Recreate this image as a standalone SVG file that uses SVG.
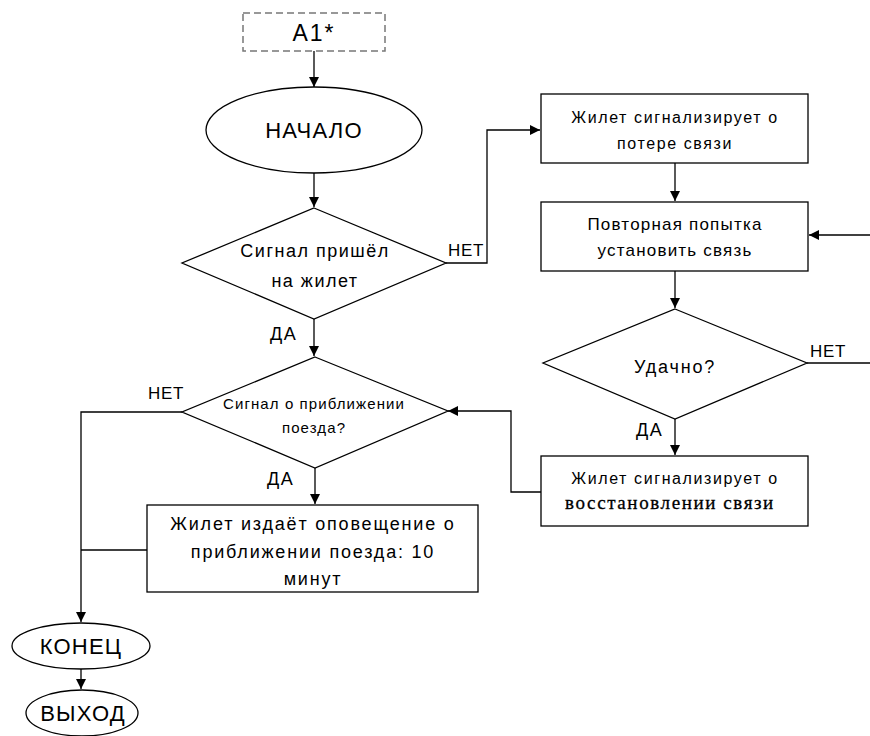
<svg xmlns="http://www.w3.org/2000/svg" width="870" height="736" viewBox="0 0 870 736">
<defs>
<marker id="arr" viewBox="0 0 10 10" refX="10" refY="5" markerWidth="10" markerHeight="10" markerUnits="userSpaceOnUse" orient="auto">
<path d="M0,0 L10,5 L0,10 z" fill="#000"/>
</marker>
<style>
.s{fill:#fff;stroke:#000;stroke-width:1.3}
.c{fill:none;stroke:#000;stroke-width:1.3}
.t{font-family:"Liberation Sans","Open Sans",sans-serif;fill:#000;text-anchor:middle}
.m{font-size:18px;letter-spacing:1.5px}
.sm{font-size:17px;letter-spacing:1.2px}
.lb{font-size:17px;letter-spacing:0.7px;text-anchor:start}
.da{font-size:18px;letter-spacing:1.5px;text-anchor:start}
.big{font-size:22px;letter-spacing:1.2px}
.serif{font-family:"Liberation Serif",serif;font-size:19px;letter-spacing:1.6px;stroke:#000;stroke-width:0.3}
</style>
</defs>
<rect width="870" height="736" fill="#fff"/>
<g id="connectors">
<path class="c" d="M314,51 V87" marker-end="url(#arr)"/>
<path class="c" d="M314,173 V207" marker-end="url(#arr)"/>
<path class="c" d="M314,319 V356" marker-end="url(#arr)"/>
<path class="c" d="M446,263 H487 V130 H540" marker-end="url(#arr)"/>
<path class="c" d="M675,163 V201" marker-end="url(#arr)"/>
<path class="c" d="M870,235 H809" marker-end="url(#arr)"/>
<path class="c" d="M675,271 V308" marker-end="url(#arr)"/>
<path class="c" d="M807,363 H870"/>
<path class="c" d="M675,419 V455" marker-end="url(#arr)"/>
<path class="c" d="M541,492 H511 V411 H448" marker-end="url(#arr)"/>
<path class="c" d="M315,468 V504" marker-end="url(#arr)"/>
<path class="c" d="M182,412 H81 V622" marker-end="url(#arr)"/>
<path class="c" d="M147,550 H81"/>
<path class="c" d="M81,669 V689" marker-end="url(#arr)"/>
<text class="t lb" x="448" y="256">НЕТ</text>
<text class="t lb" x="810" y="357">НЕТ</text>
<text class="t lb" x="148" y="399">НЕТ</text>
<text class="t da" x="270" y="340">ДА</text>
<text class="t da" x="267" y="485">ДА</text>
<text class="t da" x="636" y="436">ДА</text>
</g>
<g id="a1">
<rect x="243" y="13" width="142" height="38" fill="#fff" stroke="#777" stroke-width="1.5" stroke-dasharray="7,4"/>
<text class="t" x="314" y="41" font-size="23" letter-spacing="2">A1*</text>
</g>
<g id="start">
<ellipse class="s" cx="314" cy="130" rx="108" ry="43"/>
<text class="t big" x="314" y="138">НАЧАЛО</text>
</g>
<g id="d1">
<polygon class="s" points="314,208 446,263 314,319 182,263"/>
<text class="t m" x="315" y="257">Сигнал пришёл</text>
<text class="t m" x="315" y="287">на жилет</text>
</g>
<g id="d2">
<polygon class="s" points="315,357 448,411 315,468 182,412"/>
<text class="t" x="314" y="409" style="font-size:15px;letter-spacing:1.1px">Сигнал о приближении</text>
<text class="t" x="314" y="433" style="font-size:15px;letter-spacing:1.1px">поезда?</text>
</g>
<g id="b3">
<rect class="s" x="147" y="505" width="331" height="87"/>
<text class="t" x="313" y="530" style="font-size:18px;letter-spacing:1.8px">Жилет издаёт оповещение о</text>
<text class="t" x="313" y="558" style="font-size:18px;letter-spacing:1.8px">приближении поезда: 10</text>
<text class="t" x="313" y="585" style="font-size:18px;letter-spacing:1.8px">минут</text>
</g>
<g id="end">
<ellipse class="s" cx="81" cy="646" rx="69" ry="23"/>
<text class="t big" x="81" y="654">КОНЕЦ</text>
</g>
<g id="exit">
<ellipse class="s" cx="82" cy="713" rx="56" ry="23"/>
<text class="t big" x="83" y="721">ВЫХОД</text>
</g>
<g id="b1">
<rect class="s" x="541" y="94" width="267" height="69"/>
<text class="t" x="675" y="123" style="font-size:16px;letter-spacing:1.6px">Жилет сигнализирует о</text>
<text class="t" x="675" y="149" style="font-size:16px;letter-spacing:1.6px">потере связи</text>
</g>
<g id="b2">
<rect class="s" x="541" y="202" width="267" height="69"/>
<text class="t sm" x="675" y="230">Повторная попытка</text>
<text class="t sm" x="675" y="256">установить связь</text>
</g>
<g id="d3">
<polygon class="s" points="675,309 807,363 675,419 543,363"/>
<text class="t" x="675" y="373" style="font-size:18px;letter-spacing:1.8px">Удачно?</text>
</g>
<g id="b4">
<rect class="s" x="541" y="456" width="267" height="70"/>
<text class="t" x="675" y="484" style="font-size:16px;letter-spacing:1.6px">Жилет сигнализирует о</text>
<text class="t serif" x="670" y="509">восстановлении связи</text>
</g>
</svg>
